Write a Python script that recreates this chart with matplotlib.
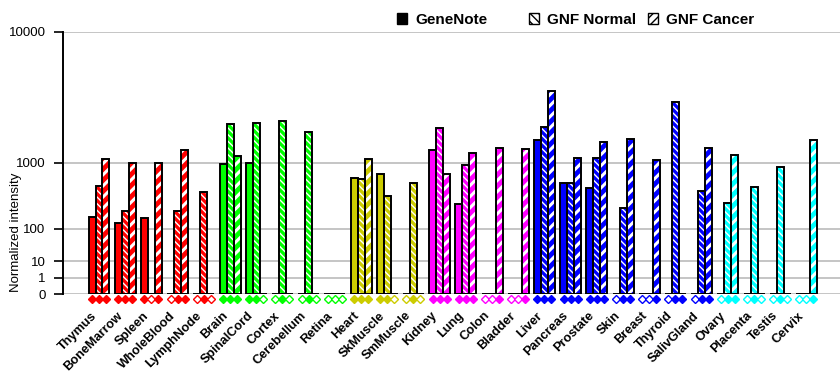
import numpy as np
import matplotlib
matplotlib.use("Agg")
from matplotlib import pyplot as plt
from matplotlib.patches import Patch

nan = np.nan

tissues = [
    "Thymus", "BoneMarrow", "Spleen", "WholeBlood", "LymphNode",
    "Brain", "SpinalCord", "Cortex", "Cerebellum", "Retina",
    "Heart", "SkMuscle", "SmMuscle",
    "Kidney", "Lung", "Colon", "Bladder",
    "Liver", "Pancreas", "Prostate", "Skin", "Breast", "Thyroid", "SalivGland",
    "Ovary", "Placenta", "Testis", "Cervix",
]
tissue_colors = (
    ["#ff0000"] * 5 + ["#00ff00"] * 5 + ["#cccc00"] * 3
    + ["#ff00ff"] * 4 + ["#0000ff"] * 7 + ["#00ffff"] * 4
)

# nan = no data (hollow diamond)
genenote = [175, 134, 167, nan, nan, 971, 985, nan, nan, nan,
            676, 756, nan, 1352, 289, nan, nan,
            1714, 574, 497, nan, nan, nan, nan, nan, nan, nan, nan]
gnf_normal = [533, 224, nan, 224, 442, 2380, 2390, 2490, 2000, nan,
              657, 387, 574, 2166, 960, nan, nan,
              2227, 574, 1135, 248, nan, 3516, 456, 303, 517, 889, nan]
gnf_cancer = [1108, 996, 996, 1352, nan, 1172, nan, nan, nan, nan,
              1115, nan, nan, 756, 1280, 1437, 1404,
              4279, 1135, 1616, 1752, 1080, 0, 1414, 1200, nan, nan, 1723]

y_ticks = [0, 1, 10, 100, 1000, 10000]
series = [("GeneNote", genenote, None),
          ("GNF Normal", gnf_normal, "\\\\\\\\\\"),
          ("GNF Cancer", gnf_cancer, "///")]

P = np.log10(2)  # each decade takes twice the height of the one below


def fwd(v):
    return np.power(np.clip(v, 0, None), P)


def inv(v):
    return np.power(np.clip(v, 0, None), 1 / P)


plt.rcParams["font.family"] = ["Liberation Sans", "DejaVu Sans"]

fig = plt.figure(figsize=(8.4, 3.85), dpi=100)
ax = fig.add_axes([63 / 840, 1 - 294.3 / 385, 1 - 63 / 840, (294.3 - 31.5) / 385])
ax.set_yscale("function", functions=(fwd, inv))

x = np.arange(len(tissues))
w = 0.267
for k, (name, vals, hatch) in enumerate(series):
    vals = np.array(vals, dtype=float)
    heights = np.nan_to_num(vals)
    xs = x + (k - 1) * w
    if hatch is None:
        ax.bar(xs, heights, w, color=tissue_colors, linewidth=0, zorder=3)
    else:
        lw = 1.0 if k == 1 else 2.2
        with plt.rc_context({"hatch.linewidth": lw}):
            ax.bar(xs, heights, w, color=tissue_colors, edgecolor="white",
                   hatch=hatch, linewidth=0, zorder=3)
    ax.bar(xs, heights, w, fill=False, edgecolor="black", linewidth=1.4, zorder=4)

    have = ~np.isnan(vals)
    trans = ax.get_xaxis_transform()
    for xi, ok, c in zip(xs, have, tissue_colors):
        ax.plot(xi, -0.016, marker="D", markersize=3.6, transform=trans,
                color=c, markerfacecolor=c if ok else "white",
                markeredgewidth=1.0, clip_on=False, zorder=5)

ax.set_xlim(-1.374, 28.28)
ax.set_ylim(0, 10000)
ax.set_yticks(y_ticks)
ax.set_yticklabels([str(t) for t in y_ticks], fontsize=9.5)
ax.yaxis.grid(True, color="#bbbbbb", linewidth=1.2, zorder=0)
ax.tick_params(axis="y", length=6.5, width=1.2, pad=6, direction="out")
ax.yaxis.set_minor_locator(matplotlib.ticker.NullLocator())

ax.set_xticks(x)
ax.set_xticklabels(tissues, rotation=45, ha="right", va="top",
                   fontsize=9.2, fontweight="bold")
ax.tick_params(axis="x", length=0, pad=11)

for side in ("top", "right", "bottom"):
    ax.spines[side].set_visible(False)
ax.spines["left"].set_linewidth(1.4)

ax.set_ylabel("Normalized intensity", fontsize=9.5)
ax.yaxis.set_label_coords(-0.053, 0.235)

handles = [
    Patch(facecolor="black", edgecolor="black", label="GeneNote"),
    Patch(facecolor="white", edgecolor="black", hatch="\\\\\\\\", label="GNF Normal"),
    Patch(facecolor="white", edgecolor="black", hatch="////", label="GNF Cancer"),
]
for h, bx in zip(handles, [397, 529, 648]):
    leg = fig.legend(handles=[h], loc="center left",
                     bbox_to_anchor=(bx / 840, 1 - 20 / 385),
                     frameon=False, borderpad=0, borderaxespad=0,
                     handlelength=0.68, handleheight=0.68, handletextpad=0.5,
                     prop={"size": 11, "weight": "bold"})

fig.savefig("out.png", dpi=100)
